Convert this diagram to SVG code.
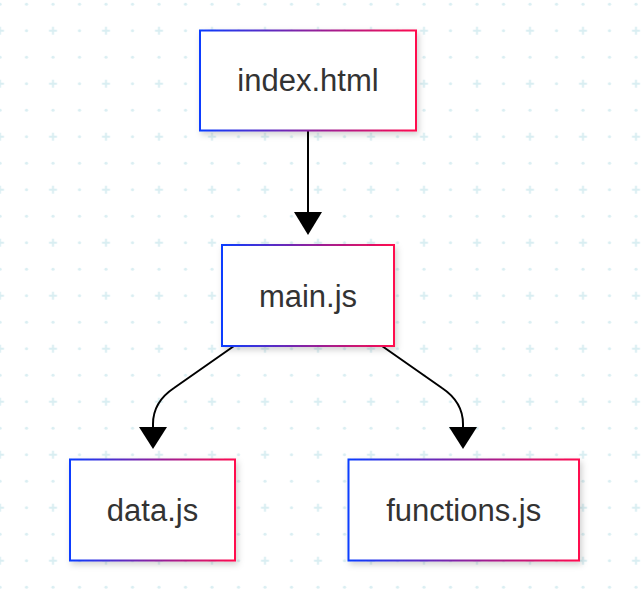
<svg xmlns="http://www.w3.org/2000/svg" width="641" height="592" viewBox="0 0 641 592">
  <style>
    .box { fill: #ffffff; stroke: url(#edge); stroke-width: 2; filter: url(#shadow); }
    .label { font-family: "Liberation Sans", Arial, sans-serif; font-size: 31px; fill: #333333; text-anchor: middle; }
    .link { fill: none; stroke: #000000; stroke-width: 2; }
    .head { fill: #000000; }
    .gd { fill: #d9eef2; }
    .gp { stroke: #d9eef2; stroke-width: 2; }
  </style>
  <defs>
    <linearGradient id="edge" x1="0" y1="0" x2="1" y2="0">
      <stop offset="0" stop-color="#0a3cff"/>
      <stop offset="0.5" stop-color="#8a22a0"/>
      <stop offset="1" stop-color="#ff0a4e"/>
    </linearGradient>
    <filter id="shadow" x="-20%" y="-20%" width="140%" height="150%">
      <feDropShadow dx="2" dy="3" stdDeviation="3" flood-color="#000000" flood-opacity="0.18"/>
    </filter>
    <pattern id="grid" patternUnits="userSpaceOnUse" x="-13.25" y="-9.05" width="53" height="53">
      <circle class="gd" cx="13.25" cy="13.25" r="1.6"/>
      <circle class="gd" cx="39.75" cy="13.25" r="1.6"/>
      <circle class="gd" cx="39.75" cy="39.75" r="1.6"/>
      <path class="gp" d="M9.25,39.75 H17.25 M13.25,35.75 V43.75"/>
    </pattern>
  </defs>
  <rect x="0" y="0" width="641" height="592" fill="#ffffff"/>
  <rect x="0" y="0" width="641" height="592" fill="url(#grid)"/>

  <g id="connectors">
    <path class="link" d="M308,131 V214"/>
    <polygon class="head" points="294,212 322,212 308,235"/>
    <path class="link" d="M234,346 L174,388 Q153,402 153,424 V428"/>
    <polygon class="head" points="139,427 167,427 153,449"/>
    <path class="link" d="M382,346 L442,388 Q463,402 463,424 V428"/>
    <polygon class="head" points="449,427 477,427 463,449"/>
  </g>

  <g id="node-index">
    <rect class="box" x="200" y="30.5" width="216" height="100"/>
    <text class="label" x="308" y="91">index.html</text>
  </g>
  <g id="node-main">
    <rect class="box" x="222" y="245" width="172" height="101"/>
    <text class="label" x="308" y="306.5">main.js</text>
  </g>
  <g id="node-data">
    <rect class="box" x="70" y="459.5" width="165" height="101"/>
    <text class="label" x="152.5" y="521">data.js</text>
  </g>
  <g id="node-functions">
    <rect class="box" x="348.5" y="459.5" width="230.5" height="101"/>
    <text class="label" x="463.7" y="521">functions.js</text>
  </g>
</svg>
